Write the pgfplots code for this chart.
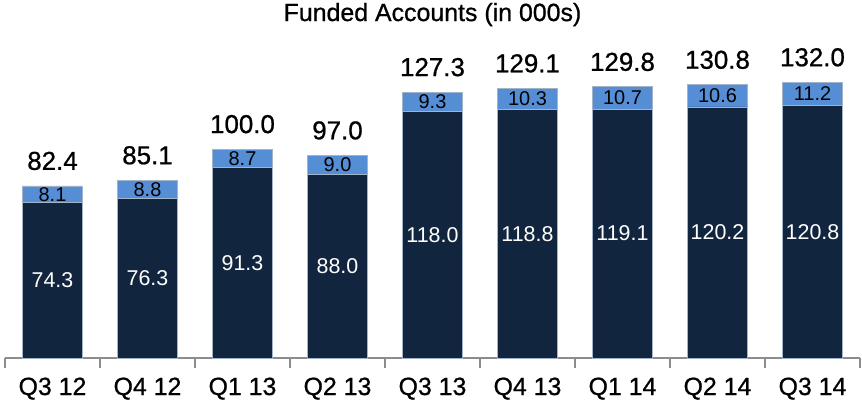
\documentclass[border=0pt]{standalone}
\usepackage{pgfplots}
\usepackage{pgfplotstable}
\pgfplotsset{compat=1.18}
\usepackage{fontspec}
\setmainfont{Liberation Sans}
\newfontfamily\heavy[FakeBold=0.8]{Liberation Sans}
\definecolor{navy}{HTML}{12253F}
\definecolor{lblue}{HTML}{558ED5}
\definecolor{edge}{HTML}{A3B3C8}
\definecolor{axgray}{HTML}{8C8C8C}
\pgfplotstableread{
x bottom top total
0 74.3 8.1 82.4
1 76.3 8.8 85.1
2 91.3 8.7 100.0
3 88.0 9.0 97.0
4 118.0 9.3 127.3
5 118.8 10.3 129.1
6 119.1 10.7 129.8
7 120.2 10.6 130.8
8 120.8 11.2 132.0
}\data
\begin{document}
\begin{tikzpicture}
\useasboundingbox (-5bp,-46bp) rectangle (857bp,358bp);
\begin{axis}[
  scale only axis, width=855bp, height=328bp,
  at={(0,0)}, anchor=south west,
  xmin=-0.5, xmax=8.5, ymin=0, ymax=157,
  hide y axis,
  axis x line=bottom,
  x axis line style={-, draw=axgray, line width=1.5bp},
  xtick={0,...,8},
  xticklabels={Q3 12,Q4 12,Q1 13,Q2 13,Q3 13,Q4 13,Q1 14,Q2 14,Q3 14},
  major tick length=0pt,
  minor xtick={-0.5,0.5,...,8.5},
  minor tick length=10bp,
  tick align=outside,
  minor tick style={draw=axgray, line width=1.5bp},
  xticklabel style={font=\heavy\fontsize{25}{28}\selectfont, anchor=base, yshift=-37bp, inner sep=0pt},
  title={Funded Accounts (in 000s)},
  title style={at={(0.5,1)}, anchor=base, yshift=3bp, font=\heavy\fontsize{25}{28}\selectfont, inner sep=0pt},
  /pgf/number format/assume math mode=true,
  clip=false,
]
\addplot[ybar, bar width=0.63, bar shift=0pt, fill=lblue, draw=edge, line width=0.7bp] table[x=x, y=total] {\data};
\addplot[ybar, bar width=0.63, bar shift=0pt, fill=navy, draw=edge, line width=0.7bp] table[x=x, y=bottom] {\data};
% labels inside dark segment
\addplot[draw=none, mark=none, nodes near coords, point meta=explicit,
  nodes near coords={\pgfmathprintnumber[fixed, fixed zerofill, precision=1, assume math mode=true]{\pgfplotspointmeta}},
  every node near coord/.append style={anchor=center, text=white, font=\fontsize{21.5}{24}\selectfont, inner sep=0pt}]
  table[x=x, y expr=\thisrow{bottom}/2, meta=bottom] {\data};
% labels inside light segment
\addplot[draw=none, mark=none, nodes near coords, point meta=explicit,
  nodes near coords={\pgfmathprintnumber[fixed, fixed zerofill, precision=1, assume math mode=true]{\pgfplotspointmeta}},
  every node near coord/.append style={anchor=center, text=black, font=\fontsize{20}{22}\selectfont, inner sep=0pt}]
  table[x=x, y expr=\thisrow{bottom}+\thisrow{top}/2, meta=top] {\data};
% totals
\addplot[draw=none, mark=none, nodes near coords, point meta=explicit,
  nodes near coords={\pgfmathprintnumber[fixed, fixed zerofill, precision=1, assume math mode=true]{\pgfplotspointmeta}},
  every node near coord/.append style={anchor=base, yshift=16bp, text=black, font=\heavy\fontsize{26}{28}\selectfont, inner sep=0pt}]
  table[x=x, y=total, meta=total] {\data};
\end{axis}
\end{tikzpicture}
\end{document}
